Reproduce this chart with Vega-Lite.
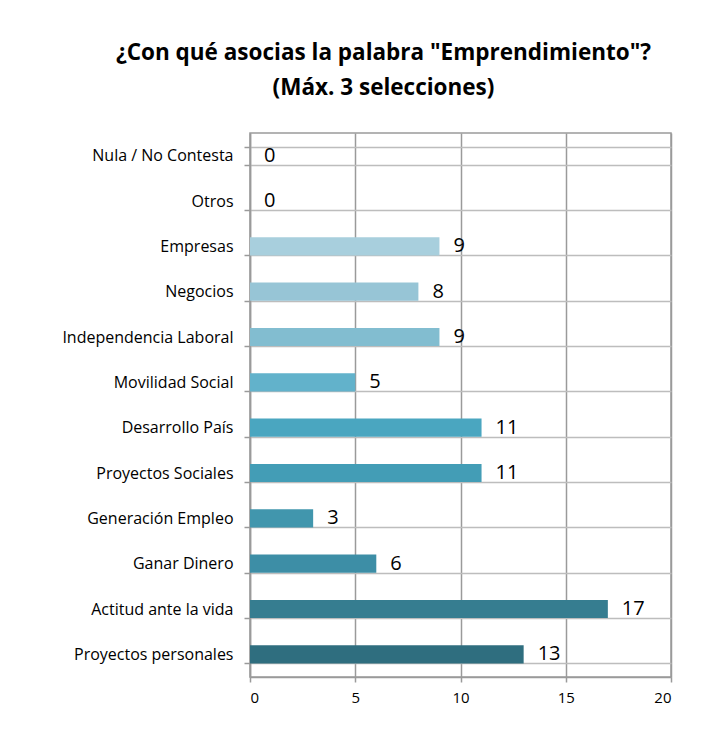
{
  "$schema": "https://vega.github.io/schema/vega-lite/v6.json",
  "autosize": "none",
  "width": 421,
  "height": 544,
  "padding": {"left": 250, "top": 133, "right": 32, "bottom": 59},
  "background": "white",
  "title": {
    "text": ["¿Con qué asocias la palabra \"Emprendimiento\"?", "(Máx. 3 selecciones)"],
    "font": "Open Sans",
    "fontSize": 22.5,
    "fontWeight": "bold",
    "color": "#000000",
    "anchor": "middle",
    "frame": "group",
    "dx": -77,
    "offset": 26,
    "lineHeight": 35
  },
  "config": {
    "view": {"stroke": "#9a9a9a", "strokeWidth": 1.5}
  },
  "data": {
    "values": [
      {"categoria": "Nula / No Contesta", "valor": 0},
      {"categoria": "Otros", "valor": 0},
      {"categoria": "Empresas", "valor": 9},
      {"categoria": "Negocios", "valor": 8},
      {"categoria": "Independencia Laboral", "valor": 9},
      {"categoria": "Movilidad Social", "valor": 5},
      {"categoria": "Desarrollo País", "valor": 11},
      {"categoria": "Proyectos Sociales", "valor": 11},
      {"categoria": "Generación Empleo", "valor": 3},
      {"categoria": "Ganar Dinero", "valor": 6},
      {"categoria": "Actitud ante la vida", "valor": 17},
      {"categoria": "Proyectos personales", "valor": 13}
    ]
  },
  "encoding": {
    "y": {
      "field": "categoria",
      "type": "nominal",
      "sort": null,
      "scale": {"paddingInner": 0.6, "paddingOuter": 0.3},
      "axis": {
        "title": null,
        "tickBand": "extent",
        "grid": true,
        "gridColor": "#bdbdbd",
        "gridWidth": 1.5,
        "domainColor": "#9a9a9a",
        "domainWidth": 1.5,
        "tickColor": "#9a9a9a",
        "tickWidth": 1.5,
        "tickSize": 6,
        "labelPadding": 11,
        "labelFont": "Open Sans",
        "labelFontSize": 16,
        "labelColor": "#000000",
        "labelLimit": 300
      }
    },
    "x": {
      "field": "valor",
      "type": "quantitative",
      "scale": {"domain": [0, 20], "nice": false},
      "axis": {
        "title": null,
        "values": [0, 5, 10, 15, 20],
        "grid": true,
        "gridColor": "#9a9a9a",
        "gridWidth": 1.5,
        "domainColor": "#9a9a9a",
        "domainWidth": 1.5,
        "tickColor": "#9a9a9a",
        "tickWidth": 1.5,
        "tickSize": 5,
        "labelPadding": 8,
        "labelFont": "Open Sans",
        "labelFontSize": 15,
        "labelColor": "#000000"
      }
    }
  },
  "layer": [
    {
      "mark": {"type": "bar"},
      "encoding": {
        "color": {
          "field": "categoria",
          "type": "nominal",
          "legend": null,
          "scale": {
            "domain": ["Nula / No Contesta", "Otros", "Empresas", "Negocios", "Independencia Laboral", "Movilidad Social", "Desarrollo País", "Proyectos Sociales", "Generación Empleo", "Ganar Dinero", "Actitud ante la vida", "Proyectos personales"],
            "range": ["#c5e0ea", "#b8d9e4", "#a8cfdd", "#97c5d6", "#82bdd0", "#62b2cb", "#4aa6c0", "#439db6", "#4196ad", "#3d8ea6", "#367d90", "#2f6e7f"]
          }
        }
      }
    },
    {
      "mark": {"type": "text", "align": "left", "baseline": "middle", "dx": 14, "font": "Open Sans", "fontSize": 20, "color": "#000000"},
      "encoding": {
        "text": {"field": "valor", "type": "quantitative"}
      }
    }
  ]
}
